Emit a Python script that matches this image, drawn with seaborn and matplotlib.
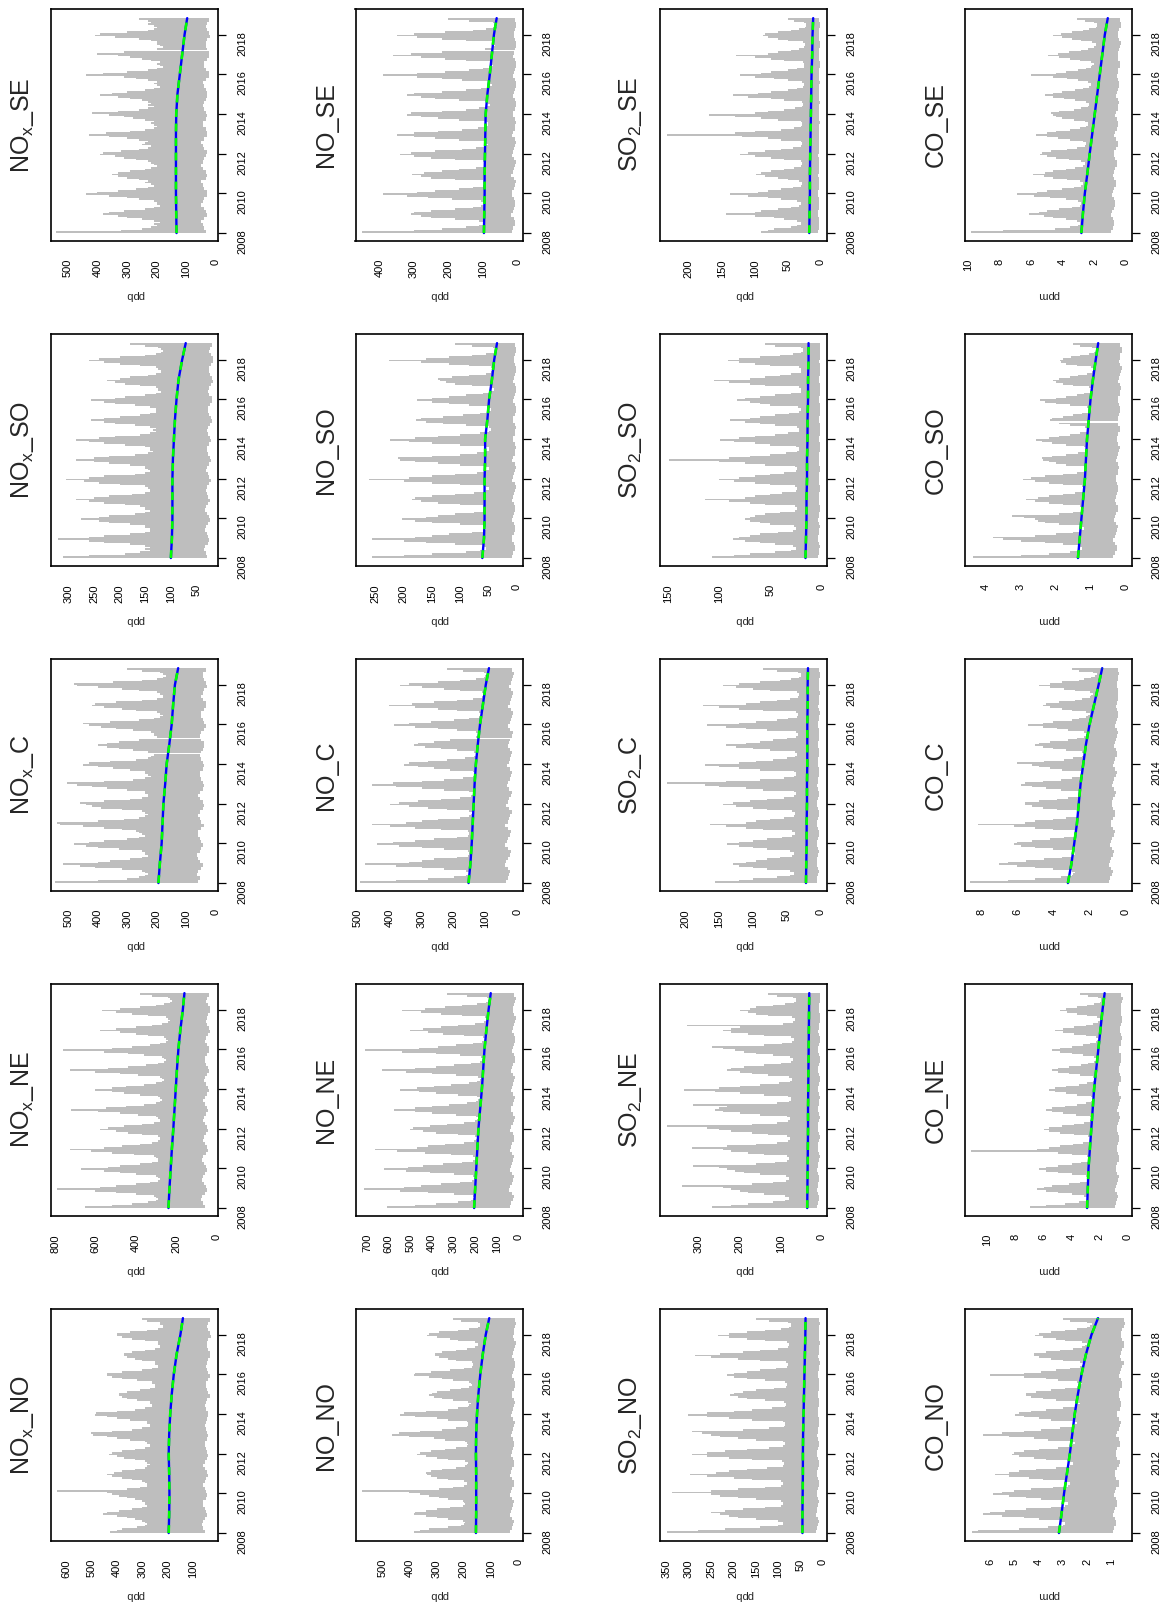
import numpy as np
import pandas as pd
import seaborn as sns
import matplotlib
matplotlib.use('Agg')
import matplotlib.pyplot as plt

# monthly periods Jan 2008 .. Oct 2018 (decimal year at the middle of each month)
months = pd.date_range('2008-01-01', periods=130, freq='MS')
t_mid = np.asarray(months.year + (months.month - 1) / 12 + 1 / 24, dtype=float)
trend_years = [2008, 2009, 2010, 2011, 2012, 2013, 2014, 2015, 2016, 2017, 2018, 2018.84]
nan = np.nan

# highs are monthly maxima, lows are two-month minima
# ---------------- NOx ----------------
nox_se_hi = [540, 320, 250, 220, 200, 210, 190, 210, 250, 300, 330, 380,
             360, 310, 240, 210, 190, 200, 200, 210, 260, 300, 360, 440,
             400, 330, 270, 230, 210, 220, 240, 230, 260, 300, 330, 350,
             330, 290, 240, 220, 200, 210, 220, 230, 270, 310, 340, 390,
             380, 320, 260, 230, 220, 250, 240, 230, 260, 300, 360, 430,
             370, 290, 240, 210, 200, 210, 220, 210, 240, 280, 310, 360,
             420, 330, 260, 230, 210, 230, 220, 230, 250, 290, 330, 390,
             350, 300, 240, 210, 190, 200, 210, 200, 230, 270, 310, 440,
             380, 300, 230, 200, 180, 190, 200, 190, 220, 250, 290, 330,
             400, 310, nan, 200, 180, 190, 200, 200, 220, 260, 340, 410,
             390, 300, 230, 210, 200, 210, 230, 220, 230, 260]
nox_se_lo = [35, 40, 45, 50, 40, 30, 35, 40, 50, 45, 40, 30, 30, 40, 45, 50, 35, 30,
             35, 45, 50, 45, 40, 35, 30, 40, 45, 50, 40, 30, 30, 35, 45, 45, 35, 30,
             35, 40, 45, 40, 35, 30, 30, 35, 40, 45, 35, 25, 25, 35, 40, 40, 30, 25,
             25, 30, 35, 35, 30, 20, 25, 30, 35, 30, 25]
nox_se_trend = [133, 134, 135, 135, 135, 135, 134, 130, 122, 114, 106, 97]

nox_so_hi = [310, 260, 190, 160, 140, 150, 140, 150, 180, 230, 260, 320,
             260, 230, 180, 150, 140, 140, 150, 150, 180, 220, 240, 275,
             240, 220, 170, 150, 140, 150, 150, 160, 190, 230, 260, 285,
             250, 220, 175, 150, 140, 140, 145, 150, 200, 240, 270, 305,
             260, 230, 170, 150, 140, 145, 150, 150, 180, 220, 250, 285,
             250, 220, 170, 145, 135, 140, 140, 150, 190, 230, 260, 285,
             240, 210, 160, 140, 130, 135, 130, 140, 170, 210, 230, 255,
             230, 200, 160, 140, 130, 130, 130, 140, 170, 210, 230, 255,
             210, 190, 150, 130, 120, 125, 125, 130, 160, 190, 210, 225,
             200, 180, 145, 130, 120, 120, 125, 130, 160, 200, 230, 260,
             240, 200, 150, 130, 120, 115, 120, 125, 150, 180]
nox_so_lo = [30, 32, 35, 33, 28, 25, 28, 30, 34, 32, 28, 24, 26, 30, 33, 32, 27, 24,
             28, 30, 32, 30, 26, 22, 25, 28, 32, 30, 26, 22, 24, 28, 30, 30, 25, 22,
             24, 27, 30, 28, 24, 20, 22, 26, 28, 28, 24, 20, 20, 25, 28, 26, 22, 18,
             20, 24, 26, 25, 21, 18, 18, 22, 25, 24, 20]
nox_so_trend = [100, 98, 97, 97, 97, 96, 94, 92, 89, 85, 78, 71]

nox_c_hi = [545, 400, 300, 260, 240, 230, 240, 250, 320, 410, 460, 520,
            400, 360, 290, 250, 230, 240, 240, 250, 330, 400, 440, 480,
            430, 380, 300, 260, 240, 250, 260, 270, 320, 380, 450, 530,
            540, 400, 310, 260, 240, 230, 240, 250, 320, 390, 420, 440,
            460, 380, 290, 250, 230, 230, 240, 240, 300, 370, 420, 470,
            505, 380, 280, 240, 220, 230, 240, 240, 290, 350, 400, 450,
            430, 360, 270, 230, 220, 210, nan, 230, 280, 330, 370, 400,
            370, 330, 260, nan, 200, 210, 210, 220, 280, 340, 390, 430,
            450, 360, 260, 210, 190, 180, 190, 200, 270, 320, 380, 420,
            410, 340, 250, 200, 180, 180, 190, 200, 260, 320, 400, 470,
            480, 350, 250, 200, 180, 170, 180, 190, 250, 300]
nox_c_lo = [60, 55, 65, 60, 50, 45, 55, 60, 65, 55, 50, 45, 50, 55, 60, 60, 50, 40,
            50, 55, 60, 55, 45, 40, 45, 55, 60, 55, 45, 40, 45, 50, 55, 55, 45, 40,
            45, 50, 55, 50, 45, 40, 40, 50, 55, 50, 40, 35, 40, 45, 50, 50, 40, 35,
            35, 45, 50, 45, 40, 30, 35, 40, 45, 45, 35]
nox_c_trend = [195, 190, 184, 181, 178, 172, 167, 158, 150, 145, 139, 128]

nox_ne_hi = [650, 520, 420, 340, 300, 290, 300, 310, 400, 500, 600, 790,
             580, 500, 400, 330, 290, 280, 290, 300, 400, 480, 560, 670,
             540, 480, 380, 320, 290, 290, 300, 310, 410, 520, 620, 725,
             560, 470, 380, 320, 290, 280, 280, 290, 370, 440, 500, 580,
             540, 460, 370, 310, 280, 280, 290, 300, 390, 480, 590, 720,
             550, 450, 360, 300, 280, 270, 280, 290, 380, 460, 520, 600,
             520, 450, 360, 300, 270, 260, 270, 280, 390, 480, 600, 725,
             540, 440, 350, 290, 260, 250, 260, 270, 360, 440, 560, 760,
             520, 420, 330, 280, 250, 240, 250, 260, 340, 400, 480, 580,
             500, 400, 320, 270, 240, 230, 240, 250, 340, 420, 500, 570,
             480, 380, 300, 260, 230, 220, 230, 240, 320, 380]
nox_ne_lo = [60, 70, 80, 75, 60, 50, 55, 65, 75, 70, 60, 50, 55, 65, 75, 70, 55, 45,
             50, 60, 70, 65, 55, 45, 50, 60, 70, 65, 55, 45, 50, 60, 70, 60, 50, 40,
             45, 55, 65, 60, 50, 40, 45, 55, 60, 60, 50, 40, 40, 50, 60, 55, 45, 35,
             40, 50, 55, 50, 45, 35, 35, 45, 55, 50, 40]
nox_ne_trend = [239, 234, 228, 222, 215, 209, 203, 197, 190, 180, 168, 160]

nox_no_hi = [425, 400, 380, 320, 290, 280, 290, 300, 330, 360, 400, 453,
             440, 390, 340, 300, 280, 290, 290, 300, 330, 360, 390, 420,
             440, 637, 360, 310, 280, 280, 290, 300, 340, 380, 420, 440,
             410, 380, 330, 290, 280, 270, 280, 290, 330, 370, 400, 430,
             420, 380, 330, 290, 270, 270, 280, 290, 350, 400, 440, 495,
             500, 420, 340, 300, 270, 270, 280, 280, 350, 400, 440, 486,
             480, 400, 330, 290, 260, 260, 270, 270, 320, 360, 380, 390,
             390, 360, 310, 270, 250, 250, 260, 260, 320, 380, 420, 440,
             440, 380, 300, 260, 240, 240, 250, 250, 300, 330, 360, 370,
             370, 340, 290, 250, 230, 230, 240, 240, 290, 340, 380, 400,
             400, 350, 280, 240, 220, 220, 230, 230, 280, 300]
nox_no_lo = [55, 60, 65, 60, 55, 45, 50, 55, 60, 60, 50, 45, 50, 55, 60, 55, 50, 40,
             45, 55, 60, 55, 45, 40, 45, 50, 55, 55, 45, 40, 45, 50, 55, 50, 45, 40,
             40, 50, 55, 50, 45, 35, 40, 45, 50, 50, 40, 35, 40, 45, 50, 45, 40, 35,
             35, 40, 45, 45, 40, 30, 35, 40, 45, 40, 35]
nox_no_trend = [196, 194, 193, 194, 196, 194, 190, 184, 176, 165, 150, 140]

# ---------------- NO ----------------
no_se_hi = [450, 300, 220, 150, 110, 100, 100, 110, 180, 250, 280, 310,
            300, 250, 180, 130, 105, 95, 95, 105, 190, 260, 320, 390,
            290, 240, 170, 130, 100, 90, 95, 100, 180, 250, 280, 305,
            270, 220, 170, 120, 95, 90, 90, 100, 180, 250, 300, 340,
            310, 240, 160, 120, 95, 85, 90, 95, 170, 240, 300, 350,
            300, 230, 160, 115, 90, 85, 85, 90, 170, 230, 280, 320,
            310, 220, 150, 110, 90, 80, 85, 90, 170, 240, 280, 320,
            300, 220, 150, 105, 85, 75, 80, 85, 160, 220, 290, 390,
            290, 210, 140, 100, 80, 70, 75, 80, 150, 210, 280, 360,
            310, 220, nan, 95, 75, 65, 70, 75, 150, 220, 290, 350,
            300, 210, 130, 90, 70, 60, 65, 70, 140, 200]
no_se_lo = [15, 12, 8, 6, 10, 18, 14, 10, 7, 6, 10, 16, 15, 10, 7, 5, 9, 17,
            13, 9, 6, 5, 9, 15, 14, 9, 6, 5, 8, 15, 12, 8, 6, 4, 8, 14,
            12, 8, 5, 4, 8, 13, 11, 7, 5, 4, 7, 12, 10, 7, 4, 3, 7, 12,
            9, 6, 4, 3, 6, 10, 9, 6, 4, 3, 6]
no_se_trend = [97, 96, 95, 95, 94, 93, 92, 87, 80, 74, 68, 60]

no_so_hi = [255, 200, 150, 90, 65, 55, 55, 60, 110, 160, 200, 256,
            180, 150, 120, 80, 60, 55, 55, 60, 100, 150, 180, 203,
            160, 140, 110, 75, 60, 55, 55, 60, 100, 140, 170, 185,
            180, 150, 110, 75, 55, 50, 50, 55, 100, 150, 200, 262,
            190, 150, 110, 70, 55, 50, 50, 55, 100, 140, 180, 206,
            210, 150, 100, 70, 55, 50, 50, 55, 100, 150, 190, 224,
            180, 140, 100, 65, 50, 45, 45, 50, 90, 130, 160, 179,
            170, 130, 95, 65, 50, 45, 45, 50, 85, 120, 150, 176,
            150, 120, 90, 60, 45, 40, 40, 45, 80, 110, 125, 135,
            140, 115, 85, 55, 45, 40, 40, 45, 85, 120, 170, 226,
            160, 120, 80, 55, 40, 38, 38, 42, 80, 110]
no_so_lo = [8, 6, 4, 3, 5, 9, 8, 5, 4, 3, 5, 9, 7, 5, 3, 3, 5, 8,
            7, 5, 3, 2, 4, 8, 7, 5, 3, 2, 4, 8, 6, 4, 3, 2, 4, 7,
            6, 4, 3, 2, 4, 7, 6, 4, 2, 2, 4, 6, 5, 4, 2, 2, 3, 6,
            5, 3, 2, 2, 3, 5, 5, 3, 2, 2, 3]
no_so_trend = [61, 58, 57, 57, 57, 56, 56, 52, 49, 44, 40, 35]

no_c_hi = [492, 380, 280, 200, 160, 150, 150, 160, 230, 300, 380, 476,
           340, 300, 260, 190, 155, 150, 150, 155, 230, 300, 370, 440,
           390, 320, 260, 190, 155, 150, 150, 155, 240, 320, 400, 455,
           350, 300, 250, 180, 150, 145, 140, 150, 220, 280, 340, 398,
           370, 310, 240, 180, 145, 140, 140, 150, 230, 300, 380, 455,
           390, 300, 230, 170, 140, 135, 130, 140, 210, 260, 310, 356,
           340, 280, 220, 165, 135, 130, 125, 135, 190, 240, 290, 325,
           310, 260, 210, nan, 130, 120, 120, 130, 190, 250, 320, 387,
           340, 270, 200, 150, 120, 115, 110, 120, 190, 250, 320, 403,
           330, 260, 190, 140, 110, 105, 100, 110, 180, 230, 300, 367,
           340, 250, 180, 130, 105, 100, 95, 105, 170, 220]
no_c_lo = [35, 30, 25, 22, 30, 40, 35, 28, 24, 20, 30, 38, 32, 28, 22, 20, 28, 38,
           30, 26, 22, 18, 26, 35, 30, 25, 20, 18, 25, 34, 28, 24, 20, 17, 24, 32,
           27, 23, 19, 16, 23, 30, 25, 22, 18, 15, 22, 30, 24, 20, 17, 14, 20, 28,
           22, 19, 16, 13, 19, 26, 21, 18, 15, 12, 18]
no_c_trend = [153, 147, 143, 140, 137, 134, 130, 124, 117, 108, 99, 89]

no_ne_hi = [608, 480, 380, 280, 220, 210, 200, 210, 300, 420, 550, 715,
            530, 450, 360, 270, 215, 205, 200, 210, 300, 410, 520, 623,
            510, 440, 350, 260, 210, 200, 200, 210, 310, 430, 560, 662,
            470, 420, 340, 250, 205, 195, 190, 200, 280, 380, 440, 500,
            490, 410, 330, 250, 200, 190, 185, 195, 290, 400, 480, 577,
            480, 400, 320, 240, 195, 185, 180, 190, 280, 380, 460, 546,
            470, 390, 310, 230, 190, 180, 175, 185, 290, 400, 520, 631,
            480, 380, 300, 220, 180, 170, 165, 175, 270, 380, 540, 708,
            460, 370, 290, 210, 170, 160, 155, 165, 250, 350, 420, 500,
            440, 360, 280, 200, 160, 150, 145, 155, 260, 360, 450, 538,
            430, 340, 260, 190, 150, 140, 135, 145, 240, 330]
no_ne_lo = [40, 32, 25, 22, 30, 42, 38, 30, 24, 20, 30, 40, 36, 30, 23, 20, 28, 40,
            34, 28, 22, 19, 27, 38, 33, 27, 21, 18, 26, 36, 32, 26, 20, 17, 25, 34,
            30, 25, 19, 16, 24, 32, 28, 24, 18, 15, 22, 30, 27, 22, 17, 14, 21, 28,
            25, 21, 16, 13, 20, 26, 24, 20, 15, 12, 19]
no_ne_trend = [205, 200, 195, 190, 185, 177, 169, 163, 157, 148, 138, 128]

no_no_hi = [384, 360, 330, 260, 210, 200, 195, 205, 260, 300, 340, 384,
            380, 340, 300, 250, 205, 195, 200, 205, 260, 290, 330, 360,
            400, 573, 290, 240, 200, 190, 190, 200, 260, 300, 320, 335,
            340, 320, 280, 230, 195, 190, 185, 195, 260, 300, 340, 372,
            360, 320, 270, 230, 190, 185, 190, 195, 270, 310, 400, 463,
            440, 360, 280, 230, 190, 185, 185, 190, 260, 300, 380, 433,
            420, 340, 260, 220, 185, 180, 175, 185, 240, 280, 310, 330,
            317, 300, 250, 210, 180, 170, 175, 180, 240, 280, 330, 384,
            380, 320, 250, 200, 170, 165, 165, 170, 230, 260, 290, 305,
            305, 280, 230, 190, 160, 150, 150, 160, 220, 250, 300, 335,
            330, 290, 220, 180, 150, 140, 140, 150, 210, 240]
no_no_lo = [30, 25, 20, 18, 24, 32, 28, 24, 19, 17, 23, 30, 28, 23, 18, 16, 22, 30,
            26, 22, 18, 15, 21, 28, 25, 21, 17, 15, 20, 27, 24, 20, 16, 14, 19, 26,
            23, 19, 15, 13, 18, 25, 22, 18, 14, 12, 17, 23, 20, 17, 13, 11, 16, 22,
            19, 16, 12, 10, 15, 20, 18, 15, 12, 10, 14]
no_no_trend = [156, 155, 155, 155, 156, 155, 152, 147, 140, 131, 120, 107]

# ---------------- SO2 ----------------
so2_se_hi = [90, 80, 70, 45, 35, 30, 30, 35, 55, 70, 100, 143,
             100, 90, 65, 45, 32, 30, 30, 35, 60, 80, 110, 138,
             95, 80, 60, 42, 30, 28, 28, 32, 50, 65, 85, 98,
             90, 75, 55, 40, 30, 28, 28, 30, 55, 75, 100, 123,
             110, 85, 60, 42, 30, 28, 28, 30, 60, 80, 120, 234,
             130, 100, 60, 40, 30, 28, 28, 30, 65, 90, 130, 169,
             100, 80, 55, 38, 28, 26, 26, 28, 55, 75, 110, 133,
             95, 75, 50, 36, 26, 25, 25, 28, 50, 70, 100, 123,
             90, 75, 50, 35, 25, 25, 25, 27, 55, 75, 100, 128,
             80, 65, 45, 33, 25, 24, 24, 26, 50, 65, 80, 88,
             85, 65, 45, 32, 24, 22, 22, 25, 40, 50]
so2_se_lo = [3, 2.5, 2, 2, 2.5, 3.5, 3, 2.5, 2, 1.5, 2.5, 3, 3, 2, 2, 1.5, 2, 3,
             2.5, 2, 1.5, 1.5, 2, 3, 2.5, 2, 1.5, 1.5, 2, 2.5, 2.5, 2, 1.5, 1, 2, 2.5,
             2.5, 2, 1.5, 1, 2, 2.5, 2, 1.5, 1.5, 1, 1.5, 2.5, 2, 1.5, 1, 1, 1.5, 2,
             2, 1.5, 1, 1, 1.5, 2, 2, 1.5, 1, 1, 1.5]
so2_se_trend = [17, 16.5, 16, 16, 15.5, 15, 14.5, 14, 13.5, 12.5, 12, 11]

so2_so_hi = [107, 85, 70, 45, 30, 25, 25, 28, 45, 60, 75, 86,
             80, 70, 60, 42, 28, 25, 25, 27, 50, 60, 70, 75,
             70, 65, 55, 40, 26, 24, 24, 26, 55, 70, 90, 114,
             75, 65, 50, 38, 25, 24, 24, 26, 50, 65, 85, 100,
             80, 65, 50, 36, 25, 24, 24, 26, 55, 75, 100, 149,
             90, 70, 50, 35, 24, 22, 22, 25, 50, 65, 85, 99,
             80, 65, 45, 33, 22, 22, 22, 24, 45, 60, 75, 89,
             70, 60, 45, 32, 22, 20, 20, 23, 50, 60, 70, 82,
             75, 60, 45, 30, 20, 20, 20, 22, 55, 70, 90, 105,
             70, 55, 40, 30, 20, 20, 20, 22, 50, 65, 80, 91,
             80, 60, 40, 28, 20, 18, 18, 20, 45, 55]
so2_so_lo = [3, 2.5, 2, 1.5, 2, 3, 3, 2.5, 2, 1.5, 2, 3, 2.5, 2, 1.5, 1.5, 2, 2.5,
             2.5, 2, 1.5, 1.5, 2, 2.5, 2.5, 2, 1.5, 1, 2, 2.5, 2, 2, 1.5, 1, 1.5, 2.5,
             2, 1.5, 1.5, 1, 1.5, 2, 2, 1.5, 1, 1, 1.5, 2, 2, 1.5, 1, 1, 1.5, 2,
             2, 1.5, 1, 1, 1.5, 2, 1.5, 1.5, 1, 1, 1.5]
so2_so_trend = [15.5, 15, 14.5, 14.5, 14, 14, 13.5, 13.5, 13, 13, 12.5, 12.5]

so2_c_hi = [156, 120, 100, 65, 45, 40, 40, 45, 80, 100, 120, 130,
            110, 95, 80, 60, 42, 40, 40, 45, 80, 100, 120, 139,
            120, 100, 80, 58, 42, 38, 38, 42, 85, 110, 140, 163,
            110, 95, 75, 55, 40, 38, 38, 42, 80, 100, 125, 144,
            130, 105, 80, 55, 40, 36, 36, 40, 85, 110, 150, 171,
            227, 140, 90, 55, 40, 36, 36, 40, 90, 120, 150, 171,
            120, 95, 70, 50, 38, 35, 35, 38, 75, 100, 125, 140,
            110, 90, 70, 50, 36, 34, 34, 37, 80, 110, 140, 168,
            120, 95, 65, 48, 35, 33, 33, 36, 85, 120, 150, 173,
            110, 90, 65, 46, 34, 32, 32, 35, 75, 100, 125, 144,
            120, 90, 60, 44, 32, 30, 30, 34, 65, 85]
so2_c_lo = [6, 5, 4, 3.5, 4.5, 6, 5.5, 5, 4, 3.5, 4.5, 6, 5.5, 4.5, 3.5, 3, 4, 5.5,
            5, 4.5, 3.5, 3, 4, 5, 5, 4, 3, 3, 4, 5, 4.5, 4, 3, 2.5, 3.5, 4.5,
            4.5, 4, 3, 2.5, 3.5, 4.5, 4, 3.5, 3, 2.5, 3, 4, 4, 3.5, 2.5, 2, 3, 4,
            3.5, 3, 2.5, 2, 3, 3.5, 3.5, 3, 2, 2, 3]
so2_c_trend = [22, 21.5, 21, 21, 20.5, 20.5, 20, 20, 20, 19.5, 19.5, 19]

so2_ne_hi = [268, 220, 180, 120, 90, 80, 80, 90, 140, 180, 200, 220,
             240, 340, 170, 120, 88, 80, 80, 88, 150, 190, 210, 230,
             250, 312, 160, 115, 85, 80, 80, 86, 140, 180, 220, 240,
             316, 230, 160, 110, 82, 78, 78, 84, 130, 170, 220, 250,
             280, 376, 170, 110, 82, 78, 78, 84, 150, 200, 240, 260,
             250, 230, 312, 110, 80, 75, 75, 82, 140, 200, 260, 336,
             250, 200, 150, 105, 78, 72, 72, 80, 130, 170, 200, 230,
             220, 190, 140, 100, 75, 70, 70, 78, 120, 160, 190, 210,
             240, 268, 140, 98, 72, 68, 68, 75, 140, 180, 220, 240,
             220, 200, 328, 95, 70, 65, 65, 72, 130, 160, 180, 200,
             175, 160, 120, 90, 68, 62, 62, 70, 110, 130]
so2_ne_lo = [12, 10, 8, 7, 9, 12, 11, 10, 8, 7, 9, 12, 11, 9, 7, 6, 8, 11,
             10, 9, 7, 6, 8, 11, 10, 9, 7, 6, 8, 10, 10, 8, 7, 6, 8, 10,
             9, 8, 6, 5, 7, 10, 9, 8, 6, 5, 7, 9, 9, 7, 6, 5, 7, 9,
             8, 7, 6, 5, 6, 8, 8, 7, 5, 5, 6]
so2_ne_trend = [36, 35.5, 35, 34.5, 34, 34, 33.5, 33, 32.5, 32, 31.5, 31]

so2_no_hi = [350, 280, 220, 140, 100, 90, 90, 100, 150, 190, 210, 230,
             250, 220, 180, 130, 95, 90, 90, 95, 150, 190, 230, 250,
             339, 250, 190, 130, 95, 90, 90, 95, 160, 200, 260, 298,
             240, 210, 170, 125, 90, 88, 88, 92, 160, 210, 260, 294,
             260, 220, 170, 120, 90, 85, 85, 90, 150, 190, 230, 250,
             270, 294, 180, 120, 88, 85, 85, 90, 160, 210, 260, 302,
             260, 200, 160, 115, 85, 82, 82, 88, 130, 170, 190, 208,
             200, 180, 150, 110, 82, 80, 80, 85, 130, 170, 200, 216,
             200, 170, 140, 105, 80, 78, 78, 82, 140, 190, 250, 287,
             230, 180, 140, 100, 78, 75, 75, 80, 130, 170, 210, 235,
             210, 170, 130, 95, 75, 72, 72, 78, 120, 150]
so2_no_lo = [15, 13, 11, 10, 12, 15, 14, 13, 11, 10, 12, 14, 14, 12, 10, 9, 11, 14,
             13, 12, 10, 9, 11, 13, 13, 11, 10, 9, 11, 13, 12, 11, 9, 8, 10, 12,
             12, 11, 9, 8, 10, 12, 11, 10, 9, 8, 9, 11, 11, 10, 8, 7, 9, 11,
             10, 9, 8, 7, 9, 10, 10, 9, 8, 7, 8]
so2_no_trend = [46, 46, 45.5, 45, 45, 44.5, 43.5, 42.5, 41.5, 40.5, 39.5, 39]

# ---------------- CO ----------------
co_se_hi = [9.8, 7.8, 4.5, 3.5, 3.0, 2.9, 2.9, 3.1, 3.8, 4.6, 5.2, 6.1,
            5.5, 5.0, 4.2, 3.4, 2.9, 2.8, 2.8, 3.0, 3.8, 4.8, 5.8, 6.9,
            5.6, 5.0, 4.0, 3.3, 2.8, 2.7, 2.7, 2.9, 3.7, 4.6, 5.2, 5.9,
            5.1, 4.6, 3.8, 3.2, 2.7, 2.6, 2.6, 2.8, 3.6, 4.4, 5.0, 5.4,
            5.3, 4.7, 3.7, 3.1, 2.6, 2.5, 2.5, 2.7, 3.5, 4.3, 5.0, 5.7,
            5.0, 4.4, 3.5, 2.9, 2.5, 2.4, 2.4, 2.6, 3.3, 4.0, 4.4, 4.6,
            4.7, 4.2, 3.3, 2.8, 2.4, 2.3, 2.3, 2.5, 3.2, 3.9, 4.6, 5.1,
            4.6, 4.0, 3.2, 2.7, 2.3, 2.2, 2.2, 2.4, 3.0, 3.7, 4.6, 6.0,
            4.4, 3.8, 3.0, 2.5, 2.2, 2.1, 2.0, 2.2, 2.9, 3.5, 4.2, 4.9,
            4.3, 3.6, 2.8, 2.4, 2.0, 1.9, 1.9, 2.1, 2.8, 3.4, 4.0, 4.6,
            4.1, 3.4, 2.7, 2.3, 1.9, 1.8, 1.8, 2.0, 2.6, 3.1]
co_se_lo = [0.9, 0.8, 0.7, 0.7, 0.8, 0.9, 0.85, 0.75, 0.65, 0.65, 0.75, 0.85, 0.8, 0.7, 0.6, 0.6, 0.7, 0.8,
            0.75, 0.65, 0.55, 0.55, 0.65, 0.75, 0.7, 0.6, 0.5, 0.5, 0.6, 0.7, 0.65, 0.55, 0.5, 0.45, 0.55, 0.65,
            0.6, 0.5, 0.45, 0.4, 0.5, 0.6, 0.55, 0.5, 0.4, 0.4, 0.45, 0.55, 0.5, 0.45, 0.35, 0.35, 0.45, 0.5,
            0.45, 0.4, 0.35, 0.3, 0.4, 0.45, 0.45, 0.4, 0.3, 0.3, 0.35]
co_se_trend = [2.8, 2.7, 2.58, 2.42, 2.27, 2.11, 1.95, 1.79, 1.63, 1.47, 1.31, 1.12]

co_so_hi = [4.36, 3.0, 2.2, 1.6, 1.3, 1.25, 1.25, 1.35, 1.8, 2.3, 3.0, 3.5,
            3.8, 2.6, 2.0, 1.5, 1.3, 1.2, 1.2, 1.3, 1.9, 2.3, 2.5, 2.6,
            2.9, 3.26, 1.9, 1.5, 1.25, 1.2, 1.2, 1.3, 1.8, 2.2, 2.6, 2.84,
            2.5, 2.2, 1.8, 1.45, 1.2, 1.15, 1.15, 1.25, 1.8, 2.2, 2.6, 2.93,
            2.7, 2.3, 1.8, 1.4, 1.2, 1.1, 1.1, 1.2, 1.7, 2.0, 2.2, 2.36,
            2.4, 2.1, 1.7, 1.35, 1.15, 1.1, 1.1, 1.2, 1.7, 2.1, 2.4, 2.55,
            2.2, 1.9, 1.6, 1.3, 1.1, 1.05, 1.05, 1.15, 1.6, 1.9, nan, 2.17,
            2.1, 1.8, 1.5, 1.25, 1.05, 1.0, 1.0, 1.1, 1.6, 2.0, 2.3, 2.45,
            2.0, 1.7, 1.4, 1.2, 1.0, 0.95, 0.95, 1.05, 1.5, 1.8, 2.0, 2.07,
            1.9, 1.6, 1.35, 1.1, 0.95, 0.9, 0.9, 1.0, 1.4, 1.7, 1.85, 1.88,
            1.8, 1.55, 1.3, 1.05, 0.9, 0.85, 0.85, 0.95, 1.3, 1.5]
co_so_lo = [0.35, 0.3, 0.25, 0.25, 0.3, 0.35, 0.3, 0.28, 0.24, 0.22, 0.28, 0.32, 0.3, 0.26, 0.22, 0.2, 0.26, 0.3,
            0.28, 0.25, 0.2, 0.2, 0.25, 0.28, 0.26, 0.22, 0.2, 0.18, 0.22, 0.26, 0.25, 0.22, 0.18, 0.16, 0.2, 0.24,
            0.24, 0.2, 0.16, 0.15, 0.2, 0.22, 0.22, 0.18, 0.15, 0.14, 0.18, 0.2, 0.2, 0.16, 0.14, 0.12, 0.16, 0.2,
            0.18, 0.15, 0.12, 0.11, 0.15, 0.18, 0.16, 0.14, 0.11, 0.1, 0.14]
co_so_trend = [1.36, 1.31, 1.26, 1.21, 1.16, 1.13, 1.10, 1.05, 1.0, 0.93, 0.85, 0.78]

co_c_hi = [8.6, 6.5, 5.0, 3.6, 3.0, 2.9, 2.8, 3.0, 4.0, 5.0, 6.0, 7.0,
           6.5, 5.5, 4.5, 3.5, 2.9, 2.8, 2.8, 2.9, 4.0, 5.0, 5.8, 6.2,
           6.0, 5.2, 4.2, 3.4, 2.8, 2.7, 2.7, 2.8, 4.0, 5.0, 6.2, 8.2,
           5.6, 5.0, 4.0, 3.3, 2.7, 2.6, 2.6, 2.7, 3.8, 4.6, 5.2, 5.6,
           5.6, 4.8, 3.8, 3.2, 2.6, 2.5, 2.5, 2.6, 3.6, 4.4, 5.2, 5.8,
           5.6, 4.6, 3.6, 3.0, 2.5, 2.4, 2.4, 2.5, 3.5, 4.2, 4.8, 5.2,
           6.0, 4.5, 3.4, 2.9, 2.4, 2.3, 2.3, 2.4, 3.3, 4.0, 4.6, 5.0,
           4.8, 4.2, 3.2, 2.7, 2.3, 2.2, 2.1, 2.3, 3.2, 3.8, 4.6, 5.4,
           4.6, 4.0, 3.0, 2.6, 2.2, 2.1, 2.0, 2.2, 3.0, 3.5, 4.2, 4.6,
           4.4, 3.7, 2.8, 2.4, 2.0, 1.9, 1.8, 2.0, 2.8, 3.4, 4.2, 4.8,
           4.2, 3.5, 2.6, 2.3, 1.9, 1.7, 1.6, 1.8, 2.6, 3.0]
co_c_lo = [0.9, 0.85, 0.75, 0.7, 0.8, 0.9, 0.85, 0.8, 0.7, 0.65, 0.75, 0.85, 0.8, 0.75, 0.65, 0.6, 0.7, 0.8,
           0.8, 0.7, 0.6, 0.6, 0.7, 0.75, 0.75, 0.7, 0.6, 0.55, 0.65, 0.75, 0.7, 0.65, 0.55, 0.5, 0.6, 0.7,
           0.65, 0.6, 0.5, 0.5, 0.55, 0.65, 0.6, 0.55, 0.5, 0.45, 0.5, 0.6, 0.55, 0.5, 0.45, 0.4, 0.5, 0.55,
           0.5, 0.45, 0.4, 0.4, 0.45, 0.5, 0.5, 0.45, 0.4, 0.35, 0.4]
co_c_trend = [3.2, 3.0, 2.85, 2.7, 2.6, 2.5, 2.35, 2.2, 2.0, 1.75, 1.5, 1.3]

co_ne_hi = [7.0, 5.8, 4.5, 3.5, 3.0, 2.9, 2.9, 3.1, 4.0, 5.0, 5.8, 6.5,
            6.0, 5.4, 4.2, 3.4, 2.9, 2.8, 2.8, 3.0, 4.0, 5.0, 5.8, 6.3,
            5.8, 5.0, 4.0, 3.3, 2.8, 2.7, 2.7, 2.9, 4.0, 5.0, 11.2, 6.5,
            5.6, 4.8, 3.9, 3.2, 2.7, 2.6, 2.6, 2.8, 3.8, 4.8, 5.6, 6.0,
            5.6, 4.7, 3.8, 3.1, 2.7, 2.6, 2.5, 2.7, 3.7, 4.6, 5.4, 5.8,
            5.4, 4.5, 3.6, 3.0, 2.6, 2.5, 2.4, 2.6, 3.6, 4.4, 5.2, 5.6,
            5.2, 4.4, 3.5, 2.9, 2.5, 2.4, 2.3, 2.5, 3.4, 4.2, 5.0, 5.4,
            5.0, 4.2, 3.3, 2.8, 2.4, 2.3, 2.2, 2.4, 3.2, 4.0, 4.8, 5.4,
            4.8, 4.0, 3.2, 2.7, 2.3, 2.2, 2.1, 2.3, 3.0, 3.8, 4.6, 5.2,
            4.6, 3.8, 3.0, 2.5, 2.1, 2.0, 2.0, 2.2, 2.9, 3.6, 4.3, 4.8,
            4.4, 3.6, 2.9, 2.4, 2.0, 1.9, 1.9, 2.1, 2.8, 3.4]
co_ne_lo = [0.9, 0.85, 0.75, 0.7, 0.8, 0.9, 0.85, 0.8, 0.7, 0.65, 0.75, 0.85, 0.85, 0.75, 0.65, 0.6, 0.7, 0.8,
            0.8, 0.7, 0.6, 0.6, 0.7, 0.8, 0.75, 0.7, 0.6, 0.55, 0.65, 0.75, 0.7, 0.65, 0.55, 0.5, 0.6, 0.7,
            0.7, 0.6, 0.5, 0.5, 0.55, 0.65, 0.65, 0.55, 0.5, 0.45, 0.5, 0.6, 0.6, 0.5, 0.45, 0.4, 0.5, 0.55,
            0.55, 0.5, 0.4, 0.4, 0.45, 0.5, 0.5, 0.45, 0.4, 0.35, 0.45]
co_ne_trend = [2.9, 2.85, 2.8, 2.7, 2.6, 2.5, 2.4, 2.25, 2.1, 1.95, 1.8, 1.65]

co_no_hi = [6.75, 6.5, 4.8, 3.6, 3.0, 2.9, 2.9, 3.1, 4.0, 4.6, 5.5, 6.27,
            6.0, 5.4, 4.5, 3.5, 2.9, 2.8, 2.8, 3.0, 3.9, 4.5, 5.2, 5.86,
            5.5, 5.0, 4.3, 3.4, 2.8, 2.7, 2.7, 2.9, 3.8, 4.4, 5.2, 5.8,
            5.2, 4.8, 4.1, 3.3, 2.7, 2.6, 2.6, 2.8, 3.7, 4.2, 4.8, 5.1,
            5.0, 4.6, 4.0, 3.2, 2.7, 2.6, 2.5, 2.7, 3.6, 4.2, 5.2, 6.27,
            5.5, 4.6, 3.9, 3.1, 2.6, 2.5, 2.4, 2.6, 3.5, 4.0, 4.6, 4.97,
            4.8, 4.3, 3.7, 3.0, 2.5, 2.4, 2.3, 2.5, 3.3, 3.8, 4.3, 4.5,
            4.5, 4.1, 3.5, 2.9, 2.4, 2.3, 2.2, 2.4, 3.2, 3.7, 4.6, 6.0,
            4.6, 3.9, 3.3, 2.7, 2.3, 2.2, 2.1, 2.3, 3.0, 3.5, 4.0, 4.2,
            4.2, 3.7, 3.1, 2.6, 2.2, 2.1, 2.0, 2.2, 2.9, 3.3, 3.8, 4.15,
            4.0, 3.5, 2.9, 2.4, 2.0, 1.9, 1.8, 2.0, 2.7, 3.0]
co_no_lo = [0.95, 0.9, 0.8, 0.8, 0.85, 0.95, 0.9, 0.85, 0.75, 0.75, 0.8, 0.9, 0.85, 0.8, 0.7, 0.7, 0.8, 0.85,
            0.85, 0.75, 0.7, 0.65, 0.75, 0.8, 0.8, 0.75, 0.65, 0.65, 0.7, 0.8, 0.75, 0.7, 0.65, 0.6, 0.7, 0.75,
            0.75, 0.65, 0.6, 0.6, 0.65, 0.7, 0.7, 0.65, 0.55, 0.55, 0.6, 0.7, 0.65, 0.6, 0.55, 0.5, 0.6, 0.65,
            0.6, 0.55, 0.5, 0.5, 0.55, 0.6, 0.6, 0.55, 0.5, 0.45, 0.5]
co_no_trend = [3.16, 3.05, 2.95, 2.83, 2.71, 2.61, 2.51, 2.38, 2.23, 2.05, 1.82, 1.55]

pollutants = ['NOx', 'NO', 'SO2', 'CO']
stations = ['SE', 'SO', 'C', 'NE', 'NO']
title_prefix = {'NOx': r'NO$_\mathregular{x}$', 'NO': 'NO', 'SO2': r'SO$_\mathregular{2}$', 'CO': 'CO'}
units = {'NOx': 'ppb', 'NO': 'ppb', 'SO2': 'ppb', 'CO': 'ppm'}

# (high, low, trend, axis range, ticks)
panels = {
    ('NOx', 'SE'): (nox_se_hi, nox_se_lo, nox_se_trend, (557, -7), range(0, 501, 100)),
    ('NOx', 'SO'): (nox_so_hi, nox_so_lo, nox_so_trend, (334, 8), range(50, 301, 50)),
    ('NOx', 'C'): (nox_c_hi, nox_c_lo, nox_c_trend, (559, -7), range(0, 501, 100)),
    ('NOx', 'NE'): (nox_ne_hi, nox_ne_lo, nox_ne_trend, (820, -6), range(0, 801, 200)),
    ('NOx', 'NO'): (nox_no_hi, nox_no_lo, nox_no_trend, (659, 2), range(100, 601, 100)),
    ('NO', 'SE'): (no_se_hi, no_se_lo, no_se_trend, (470, -15), range(0, 401, 100)),
    ('NO', 'SO'): (no_so_hi, no_so_lo, no_so_trend, (285, -10), range(0, 251, 50)),
    ('NO', 'C'): (no_c_hi, no_c_lo, no_c_trend, (507, -16), range(0, 501, 100)),
    ('NO', 'NE'): (no_ne_hi, no_ne_lo, no_ne_trend, (754, -19), range(0, 701, 100)),
    ('NO', 'NO'): (no_no_hi, no_no_lo, no_no_trend, (598, -15), range(0, 501, 100)),
    ('SO2', 'SE'): (so2_se_hi, so2_se_lo, so2_se_trend, (244, -10), range(0, 201, 50)),
    ('SO2', 'SO'): (so2_so_hi, so2_so_lo, so2_so_trend, (157.5, -5.5), range(0, 151, 50)),
    ('SO2', 'C'): (so2_c_hi, so2_c_lo, so2_c_trend, (237, -9), range(0, 201, 50)),
    ('SO2', 'NE'): (so2_ne_hi, so2_ne_lo, so2_ne_trend, (393, -12), range(0, 301, 100)),
    ('SO2', 'NO'): (so2_no_hi, so2_no_lo, so2_no_trend, (365, -9), range(0, 351, 50)),
    ('CO', 'SE'): (co_se_hi, co_se_lo, co_se_trend, (10.2, -0.42), range(0, 11, 2)),
    ('CO', 'SO'): (co_so_hi, co_so_lo, co_so_trend, (4.6, -0.19), range(0, 5, 1)),
    ('CO', 'C'): (co_c_hi, co_c_lo, co_c_trend, (8.9, -0.35), range(0, 9, 2)),
    ('CO', 'NE'): (co_ne_hi, co_ne_lo, co_ne_trend, (11.6, -0.3), range(0, 11, 2)),
    ('CO', 'NO'): (co_no_hi, co_no_lo, co_no_trend, (7.03, 0.15), range(1, 7, 1)),
}

sns.set_style('white')
plt.rcParams['font.family'] = ['Liberation Sans', 'DejaVu Sans']
plt.rcParams['mathtext.default'] = 'regular'

W, H = 1162, 1603
col_x = [51, 355.5, 660, 965]
row_y = [9, 334, 659, 984, 1309]
aw, ah = 167, 232

fig = plt.figure(figsize=(W / 100, H / 100), dpi=100)

for c, pol in enumerate(pollutants):
    for r, st in enumerate(stations):
        hi, lo, trend, xlim, xticks = panels[(pol, st)]
        hi = np.array(hi, dtype=float)
        lo = np.repeat(np.array(lo, dtype=float), 2)
        ok = ~np.isnan(hi)
        ax = fig.add_axes([col_x[c] / W, 1 - (row_y[r] + ah) / H, aw / W, ah / H])
        ax.barh(t_mid[ok], (hi - lo)[ok], left=lo[ok], height=1 / 12,
                color='#bebebe', linewidth=0)
        sns.lineplot(x=trend, y=trend_years, sort=False, estimator=None,
                     color='blue', linewidth=1.7, ax=ax)
        sns.lineplot(x=trend, y=trend_years, sort=False, estimator=None,
                     color='#00ff00', linewidth=1.9, linestyle=(0, (3, 2.5)), ax=ax)

        ax.set_xlim(*xlim)
        ax.set_ylim(2007.6, 2019.3)
        ax.set_xticks(list(xticks))
        ax.set_yticks(range(2008, 2019, 2))
        ax.yaxis.tick_right()
        ax.tick_params(axis='both', direction='out', length=6, width=0.9,
                       labelsize=8, color='black', labelcolor='black')
        ax.tick_params(axis='x', labelrotation=90, pad=7)
        ax.tick_params(axis='y', labelrotation=90, pad=8)
        for s in ax.spines.values():
            s.set_linewidth(1.2)
            s.set_color('black')

        ax.set_ylabel('')
        ax.set_xlabel(units[pol], rotation=180, fontsize=8, va='center')
        ax.xaxis.set_label_coords(0.5, -54 / ah)

        ax.text(-29 / aw, 0.5, title_prefix[pol] + '_' + st, rotation=90,
                ha='center', va='center', fontsize=18, transform=ax.transAxes)

fig.savefig('out.png', dpi=100)
